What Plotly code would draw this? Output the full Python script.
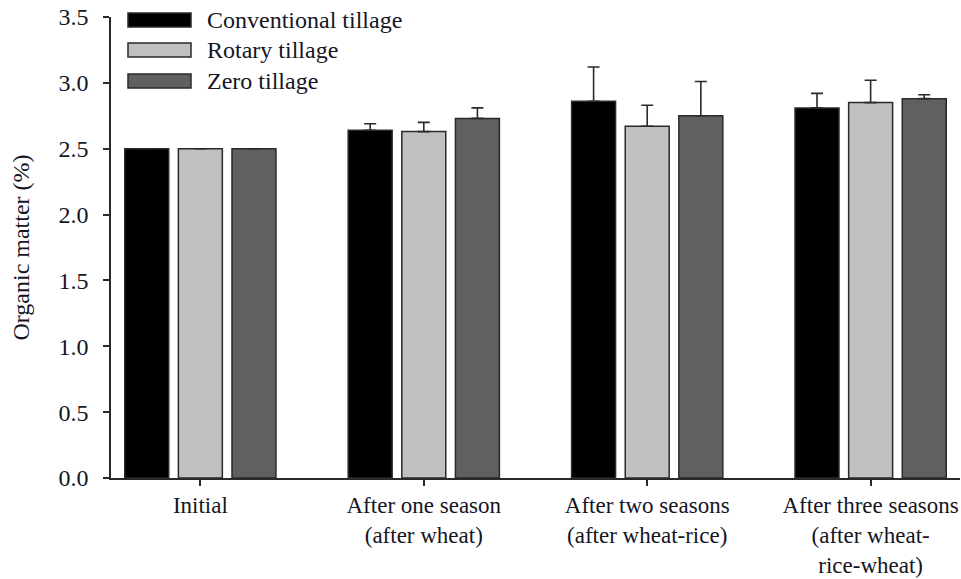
import plotly.graph_objects as go

# Sampling stages (x categories)
stages = [
    "Initial",
    "After one season<br>(after wheat)",
    "After two seasons<br>(after wheat-rice)",
    "After three seasons<br>(after wheat-<br>rice-wheat)",
]

# Organic matter (%) by tillage system
conventional = [2.50, 2.64, 2.86, 2.81]
rotary = [2.50, 2.63, 2.67, 2.85]
zero = [2.50, 2.73, 2.75, 2.88]

# Standard errors (drawn upward only)
conventional_err = [0.0, 0.05, 0.26, 0.11]
rotary_err = [0.0, 0.07, 0.16, 0.17]
zero_err = [0.0, 0.08, 0.26, 0.03]

series_names = ["Conventional tillage", "Rotary tillage", "Zero tillage"]
fills = ["#000000", "#c0c0c0", "#606060"]

FONT = "Liberation Serif, Times New Roman, serif"
INK = "#15151f"
EDGE = "#2a2a2a"

fig = go.Figure()
for name, vals, errs, col in zip(series_names,
                                 [conventional, rotary, zero],
                                 [conventional_err, rotary_err, zero_err],
                                 fills):
    fig.add_trace(go.Bar(
        x=list(range(len(stages))),
        y=vals,
        name=name,
        marker=dict(color=col, line=dict(color=EDGE, width=1.5)),
        error_y=dict(type="data", array=errs, arrayminus=[0] * len(errs),
                     symmetric=False, color=EDGE, thickness=1.6, width=6),
        showlegend=False,
    ))

# Legend drawn as wide swatches with labels in the upper-left corner
plot_l, plot_r, plot_t, plot_b = 111, 960, 17, 478
pw, ph = plot_r - plot_l, plot_b - plot_t


def px_x(v):
    return (v - plot_l) / pw


def px_y(v):
    return (plot_b - v) / ph


rows = [(13, 27), (43, 57), (74, 88)]
for (top, bot), name, col in zip(rows, series_names, fills):
    fig.add_shape(type="rect", xref="paper", yref="paper",
                  x0=px_x(128), x1=px_x(191), y0=px_y(bot), y1=px_y(top),
                  fillcolor=col, line=dict(color=EDGE, width=1.5))
    fig.add_annotation(xref="paper", yref="paper", x=px_x(205),
                       y=px_y((top + bot) / 2), text=name, showarrow=False,
                       xanchor="left", yanchor="middle",
                       font=dict(family=FONT, size=24, color=INK))

# short stub of the baseline running left past the y axis
fig.add_shape(type="line", xref="paper", yref="paper",
              x0=px_x(103), x1=0, y0=0, y1=0,
              line=dict(color=EDGE, width=1.5))

fig.update_layout(
    width=961, height=579,
    margin=dict(l=plot_l, r=961 - plot_r, t=plot_t, b=579 - plot_b),
    paper_bgcolor="white", plot_bgcolor="white",
    barmode="group", bargap=0.28, bargroupgap=0.18,
    font=dict(family=FONT, size=24, color=INK),
)
fig.update_xaxes(
    range=[-0.4, 3.4], tickmode="array", tickvals=list(range(len(stages))),
    ticktext=stages, showline=True, linecolor=EDGE, linewidth=1.5,
    ticks="outside", ticklen=6, tickwidth=1.5, tickcolor=EDGE,
    showgrid=False, zeroline=False, ticklabeloverflow="allow",
    tickfont=dict(family=FONT, size=23, color=INK),
)
fig.update_yaxes(
    range=[0, 3.5], tickmode="array",
    tickvals=[0, 0.5, 1.0, 1.5, 2.0, 2.5, 3.0, 3.5],
    ticktext=["0.0", "0.5", "1.0", "1.5", "2.0", "2.5", "3.0", "3.5"],
    showline=True, linecolor=EDGE, linewidth=1.5,
    ticks="outside", ticklen=6, tickwidth=1.5, tickcolor=EDGE,
    showgrid=False, zeroline=False, ticklabelstandoff=10,
    tickfont=dict(family=FONT, size=24, color=INK),
    title=dict(text="Organic matter (%)", standoff=22,
               font=dict(family=FONT, size=24, color=INK)),
)

fig.write_html("out.html")
